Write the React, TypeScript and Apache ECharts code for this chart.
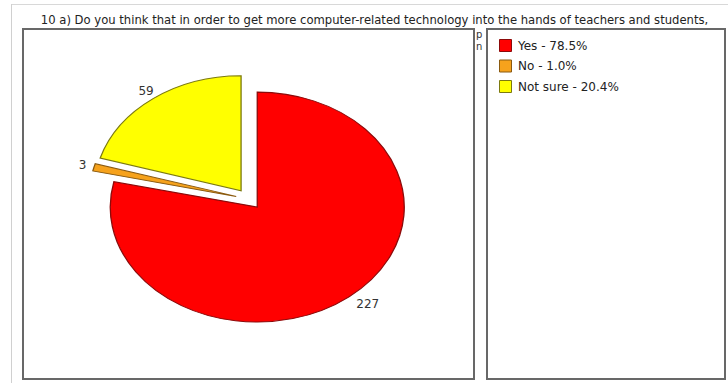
import React, { useEffect, useRef } from "react";
import * as echarts from "echarts";

const titleText =
  "10 a) Do you think that in order to get more computer-related technology into the hands of teachers and students,";
const hiddenFragments = ["p", "n"];
const categories = ["Yes", "No", "Not sure"];
const counts = [227, 3, 59];
const fillColors = ["#ff0000", "#f6a21c", "#ffff00"];
const strokeColors = ["#8c0a0a", "#8a5a10", "#7c7a10"];

const FONT = "DejaVu Sans, Verdana, sans-serif";

export default function App() {
  const ref = useRef<HTMLDivElement>(null);

  useEffect(() => {
    if (!ref.current) return;
    const chart = echarts.init(ref.current, undefined, { renderer: "svg" });

    const total = counts.reduce((a, b) => a + b, 0);
    const cum: number[] = [];
    counts.reduce((acc, v, i) => {
      cum[i] = acc;
      return acc + v;
    }, 0);

    const CX = 249;
    const CY = 199;
    const R = 147;
    const SY = 115 / 147;
    const EXPLODE = 0.09 * R;
    const LABEL_K = 1.17;

    const legendGraphics: any[] = [];
    categories.forEach((c, i) => {
      const pct = ((counts[i] / total) * 100).toFixed(1);
      const y = 39 + i * 20.5;
      legendGraphics.push({
        type: "rect",
        z: 5,
        shape: { x: 499.5, y: y + 0.5, width: 12, height: 12 },
        style: { fill: fillColors[i], stroke: strokeColors[i], lineWidth: 1 },
      });
      legendGraphics.push({
        type: "text",
        z: 5,
        x: 518,
        y: y + 6.5,
        style: {
          text: `${c} - ${pct}%`,
          font: `12px ${FONT}`,
          fill: "#222",
          textVerticalAlign: "middle",
          textAlign: "left",
        },
      });
    });

    const option: any = {
      animation: false,
      backgroundColor: "#ffffff",
      graphic: [
        {
          type: "line",
          z: 0,
          shape: { x1: 11, y1: 4.5, x2: 728, y2: 4.5 },
          style: { stroke: "#d8d8d8", lineWidth: 1 },
        },
        {
          type: "line",
          z: 0,
          shape: { x1: 11.5, y1: 4, x2: 11.5, y2: 383 },
          style: { stroke: "#d0d0d0", lineWidth: 1 },
        },
        {
          type: "text",
          z: 5,
          x: 374.5,
          y: 19.5,
          style: {
            text: titleText,
            font: `11.6px ${FONT}`,
            fill: "#222",
            textAlign: "center",
            textVerticalAlign: "middle",
          },
        },
        ...hiddenFragments.map((f, i) => ({
          type: "text",
          z: 1,
          x: 476,
          y: 34 + i * 12,
          style: {
            text: f,
            font: `10px ${FONT}`,
            fill: "#333",
            textAlign: "left",
            textVerticalAlign: "middle",
          },
        })),
        {
          type: "rect",
          z: 2,
          shape: { x: 23, y: 29, width: 451, height: 350 },
          style: { fill: "#ffffff", stroke: "#686868", lineWidth: 2 },
        },
        {
          type: "rect",
          z: 2,
          shape: { x: 487, y: 29, width: 238, height: 350 },
          style: { fill: "#ffffff", stroke: "#686868", lineWidth: 2 },
        },
        ...legendGraphics,
      ],
      series: [
        {
          type: "custom",
          coordinateSystem: "none",
          z: 10,
          data: counts.map((v, i) => ({ value: [v], name: categories[i] })),
          renderItem: (params: any, api: any) => {
            const i = params.dataIndex;
            const v = api.value(0);
            const a0 = -Math.PI / 2 + (cum[i] / total) * Math.PI * 2;
            const a1 = a0 + (v / total) * Math.PI * 2;
            const mid = (a0 + a1) / 2;
            const dx = Math.cos(mid) * EXPLODE;
            const dy = Math.sin(mid) * EXPLODE;
            const lx = CX + Math.cos(mid) * R * LABEL_K;
            const ly = CY + Math.sin(mid) * R * SY * LABEL_K;
            return {
              type: "group",
              children: [
                {
                  type: "sector",
                  x: CX,
                  y: CY,
                  scaleY: SY,
                  shape: {
                    cx: dx,
                    cy: dy,
                    r: R,
                    r0: 0,
                    startAngle: a0,
                    endAngle: a1,
                    clockwise: true,
                  },
                  style: {
                    fill: fillColors[i],
                    stroke: strokeColors[i],
                    lineWidth: 1.3,
                  },
                },
                {
                  type: "text",
                  x: lx,
                  y: ly,
                  style: {
                    text: String(v),
                    font: `12px ${FONT}`,
                    fill: "#333",
                    textAlign: Math.cos(mid) > 0.3 ? "left" : "center",
                    textVerticalAlign: "middle",
                  },
                },
              ],
            };
          },
        },
      ],
    };

    chart.setOption(option);
    return () => chart.dispose();
  }, []);

  return (
    <div
      ref={ref}
      style={{ position: "fixed", left: 0, top: 0, width: 728, height: 383 }}
    />
  );
}
